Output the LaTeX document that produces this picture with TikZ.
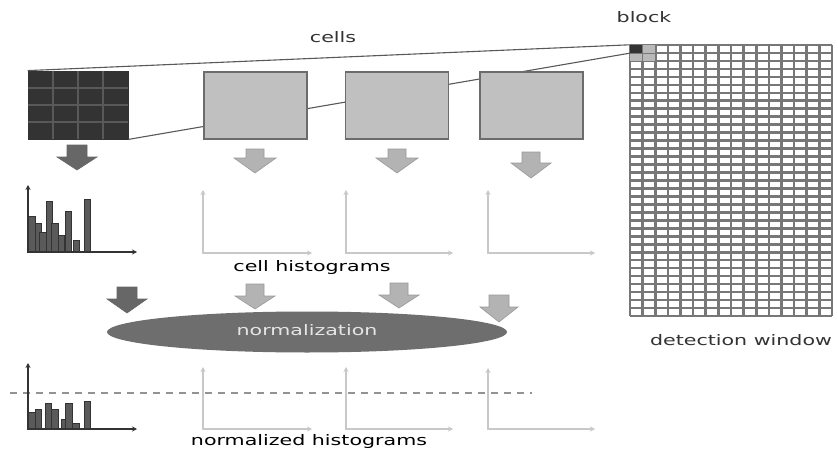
\documentclass[tikz,border=0pt]{standalone}
\usepackage{fontspec}
\setmainfont{DejaVu Sans}
\usetikzlibrary{arrows.meta,shapes.geometric}

\definecolor{inkdark}{HTML}{333333}
\definecolor{barfill}{HTML}{5A5A5A}
\definecolor{boxgray}{HTML}{C0C0C0}
\definecolor{arrowgray}{HTML}{B3B3B3}
\definecolor{arrowdark}{HTML}{676767}
\definecolor{axisgray}{HTML}{C8C8C8}
\definecolor{gridgray}{HTML}{777777}

% down-pointing block arrow: style, centre x, top, shaft width, head start, head width, tip
\newcommand\hogarrow[7]{%
  \filldraw[#1] ({#2-#4/2},#3) -- ({#2+#4/2},#3) -- ({#2+#4/2},#5) -- ({#2+#6/2},#5)
    -- (#2,#7) -- ({#2-#6/2},#5) -- ({#2-#4/2},#5) -- cycle;}
% pair of axes: style, origin x, origin y, top of y axis, end of x axis
\newcommand\hogaxes[5]{\draw[#1] (#2,#4) -- (#2,#3) -- (#5,#3);}
% histogram bar: left x, top y, baseline y
\newcommand\hogbar[3]{\filldraw[histbar] (#1,#3) rectangle ({#1+6.5},#2);}

\tikzset{
  lbl/.style={font=\fontsize{14.5}{16}\selectfont, xscale=1.42, inner sep=0,
              text height=10.5, text depth=3},
  graybox/.style={rectangle, draw=gray!85!black, line width=1.1, fill=boxgray,
                  minimum width=103, minimum height=67, inner sep=0},
  darkbox/.style={rectangle, fill=inkdark, draw=inkdark, line width=0.8,
                  minimum width=100, minimum height=68, inner sep=0},
  link/.style={draw=black!65, line width=1.1},
  darkarrow/.style={fill=arrowdark, draw=black!60, line width=0.6},
  lightarrow/.style={fill=arrowgray, draw=black!40, line width=0.6},
  darkaxes/.style={draw=inkdark, line width=1.1, {Stealth[length=5,width=5]}-{Stealth[length=5,width=5]}},
  lightaxes/.style={draw=axisgray, line width=1.1, {Stealth[length=5,width=5]}-{Stealth[length=5,width=5]}},
  histbar/.style={fill=barfill, draw=black!80, line width=0.7},
  winline/.style={draw=gridgray, line width=2.6},
}

\begin{document}
\begin{tikzpicture}[x=1pt,y=-1pt]
\useasboundingbox (0,0) rectangle (838,452);
\fill[white] (0,0) rectangle (838,452);

% ---- detection window -------------------------------------------------
\foreach \i in {0,...,16} \draw[winline] ({630+\i*12.625},45) -- ({630+\i*12.625},316);
\foreach \j in {0,...,34} \draw[winline] (630,{45+\j*7.97}) -- (832,{45+\j*7.97});
% block of 2x2 cells in its corner
\node[rectangle, fill=inkdark, minimum width=12.625, minimum height=7.97, inner sep=0]
  (blockcell) at ({630+12.625/2},{45+7.97/2}) {};
\fill[gray!55] ({630+12.625},45) rectangle ({630+2*12.625},{45+7.97});
\fill[gray!55] (630,{45+7.97}) rectangle ({630+2*12.625},{45+2*7.97});
\draw[line width=0.8, gridgray] ({630+12.625},45) -- ({630+12.625},{45+2*7.97})
   (630,{45+7.97}) -- ({630+2*12.625},{45+7.97});

% ---- cells --------------------------------------------------------------
\node[darkbox] (cellA) at (78,105) {};
\foreach \i in {1,2,3} \draw[gray!70!black, line width=1.2] ({28+\i*25},71) -- ({28+\i*25},139);
\foreach \j in {1,2,3} \draw[gray!70!black, line width=1.2] (28,{71+\j*17}) -- (128,{71+\j*17});

% projection lines from the block to the cell row
\draw[link] (cellA.north west) -- (blockcell.north west);
\draw[link] (cellA.south east) -- (blockcell.south west);

\node[graybox] (cellB) at (255.5,105.5) {};
\node[graybox] (cellC) at (397,105.5) {};
\node[graybox] (cellD) at (531.5,105.5) {};

\node[lbl, text=inkdark] (cellslbl) at (333,39) {cells};
\node[lbl, text=inkdark] (blocklbl) at (644,19) {block};

% ---- arrows cells -> histograms ------------------------------------------
\hogarrow{darkarrow}{77}{145}{20}{157}{40}{170}
\hogarrow{lightarrow}{255}{149}{18}{158}{42}{173}
\hogarrow{lightarrow}{397}{149}{18}{158}{42}{173}
\hogarrow{lightarrow}{531}{152}{18}{163}{40}{178}

% ---- cell histograms -----------------------------------------------------
\hogbar{28.5}{216}{252}
\hogbar{35}{223}{252}
\hogbar{39.5}{232}{252}
\hogbar{46}{201}{252}
\hogbar{51.5}{223}{252}
\hogbar{58}{235}{252}
\hogbar{65}{211}{252}
\hogbar{73}{240}{252}
\hogbar{84}{199}{252}
\hogaxes{darkaxes}{28}{252}{185}{137}
\hogaxes{lightaxes}{203}{253}{190}{312}
\hogaxes{lightaxes}{346}{253}{190}{453}
\hogaxes{lightaxes}{488}{253}{190}{595}
\node[lbl, text=black] (histlbl) at (312,267.5) {cell histograms};

% ---- arrows histograms -> normalization ---------------------------------
\hogarrow{darkarrow}{127}{287}{20}{299}{40}{313}
\hogarrow{lightarrow}{255}{284}{18}{296}{40}{309}
\hogarrow{lightarrow}{399}{283}{18}{295}{40}{308}
\hogarrow{lightarrow}{499}{295}{20}{307}{38}{322}

% ---- normalization -------------------------------------------------------
\node[ellipse, fill=black!57, minimum width=400, minimum height=41, inner sep=0]
  (norm) at (307,332) {};
\node[lbl, text=black!10] (normlbl) at (norm.center) {normalization};

\node[lbl, text=inkdark] (winlbl) at (741,342) {detection window};

% ---- normalized histograms ----------------------------------------------
\draw[draw=gray!85, line width=1.2, dash pattern=on 7 off 6] (10,393) -- (532,393);
\hogbar{28.5}{412}{429}
\hogbar{35}{409}{429}
\hogbar{45}{403}{429}
\hogbar{51.5}{409}{429}
\hogbar{61}{419}{429}
\hogbar{65.5}{403}{429}
\hogbar{72.5}{423}{429}
\hogbar{84}{401}{429}
\hogaxes{darkaxes}{28}{429}{363}{137}
\hogaxes{lightaxes}{203}{429}{367}{312}
\hogaxes{lightaxes}{346}{429}{367}{453}
\hogaxes{lightaxes}{488}{429}{368}{595}
\node[lbl, text=black] (normhistlbl) at (309,441.5) {normalized histograms};
\end{tikzpicture}
\end{document}
